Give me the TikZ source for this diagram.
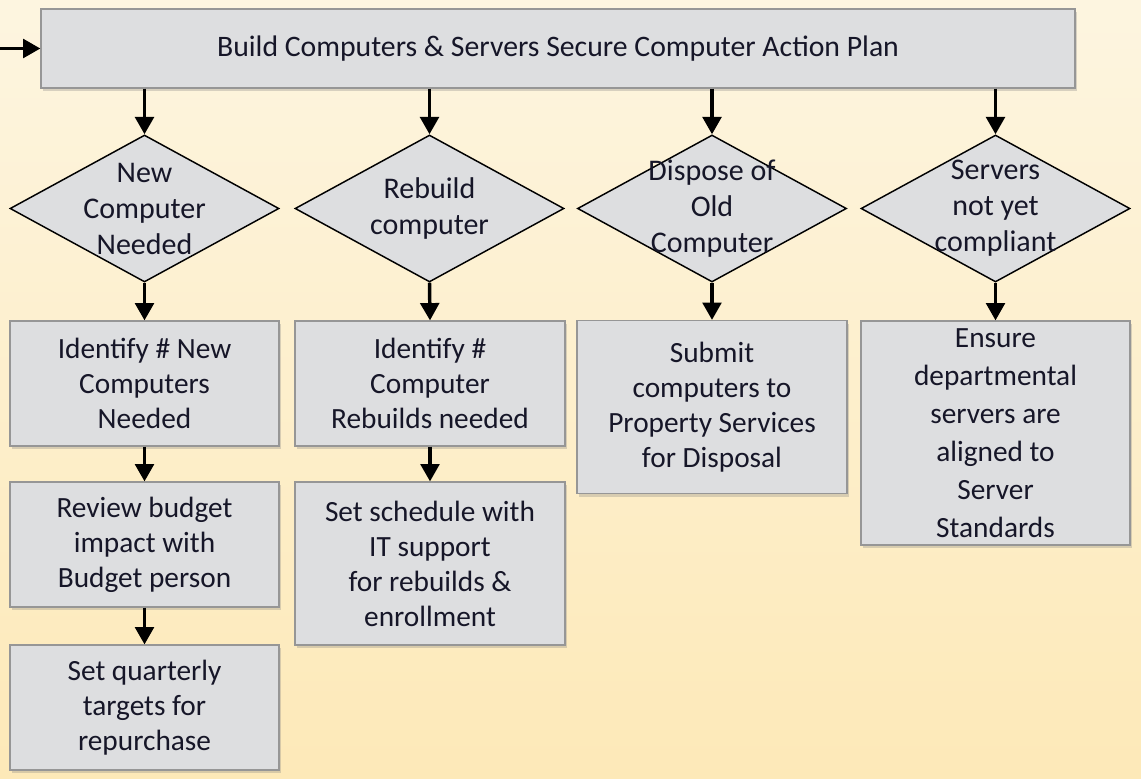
\documentclass[tikz,border=0pt]{standalone}
\usepackage{fontspec}
\setmainfont{Carlito}
\usetikzlibrary{shapes.geometric,arrows.meta,shadows}
\definecolor{bgtop}{RGB}{253,245,224}
\definecolor{bgbot}{RGB}{253,233,184}
\definecolor{boxfill}{RGB}{221,222,224}
\definecolor{boxline}{RGB}{150,150,150}
\definecolor{ink}{RGB}{22,22,40}
\begin{document}
\begin{tikzpicture}[x=0.75pt,y=-0.75pt,
 pbox/.style={draw=boxline, line width=0.9pt, fill=boxfill,
   drop shadow={opacity=0.3,shadow xshift=1.5pt,shadow yshift=-2.5pt},
   align=center, text=ink, font=\fontsize{22}{26.25}\selectfont, inner sep=0pt},
 dia/.style={diamond, draw=black, line width=1.1pt, fill=boxfill, inner sep=0pt,
   minimum width=201.75pt, minimum height=110.25pt},
 diatext/.style={align=center, text=ink, font=\fontsize{22.5}{27}\selectfont, inner sep=0pt},
 arr/.style={line width=2.6pt, -{Triangle[width=14pt,length=13pt]}}]
\shade[top color=bgtop, bottom color=bgbot] (0,0) rectangle (1141,778);
\useasboundingbox (0,0) rectangle (1141,778);

\node[pbox, minimum width=775.5pt, minimum height=59.25pt, font=\fontsize{22.3}{26}\selectfont] (top) at (558,48.5)
  {Build Computers \& Servers Secure Computer Action Plan};

\node[dia] (d1) at (144.5,208.5) {};
\node[dia] (d2) at (429.5,208.5) {};
\node[dia] (d3) at (712,208.5) {};
\node[dia] (d4) at (995.5,208.5) {};
\node[diatext] (t1) at (d1) {New\\Computer\\Needed};
\node[diatext] (t2) at (d2) {Rebuild\\computer};
\node[diatext] (t3) at (d3) {Dispose of\\Old\\Computer};
\node[diatext] (t4) at (d4) {Servers\\not yet\\compliant};

\node[pbox, minimum width=201.75pt, minimum height=93.75pt] (b1) at (144.5,383.5)
  {Identify \# New\\Computers\\Needed};
\node[pbox, minimum width=201.75pt, minimum height=93.75pt] (c1) at (144.5,544.5)
  {Review budget\\impact with\\Budget person};
\node[pbox, minimum width=201.75pt, minimum height=93.75pt] (e1) at (144.5,707.5)
  {Set quarterly\\targets for\\repurchase};
\node[pbox, minimum width=202.5pt, minimum height=93.75pt] (b2) at (430,383.5)
  {Identify \#\\Computer\\Rebuilds needed};
\node[pbox, minimum width=202.5pt, minimum height=122.25pt] (c2) at (430,563.5)
  {Set schedule with\\IT support\\for rebuilds \&\\enrollment};
\node[pbox, minimum width=202.5pt, minimum height=129.75pt] (b3) at (712,407)
  {Submit\\computers to\\Property Services\\for Disposal};
\node[pbox, minimum width=201.75pt, minimum height=168pt, font=\fontsize{22}{28.5}\selectfont] (b4) at (995.5,433)
  {Ensure\\departmental\\servers are\\aligned to\\Server\\Standards};

\coordinate (in) at (0,48.5);
\draw[arr] (in) -- (top.west);
\foreach \d in {d1,d2,d3,d4}
  \draw[arr] (top.south -| \d.north) -- (\d.north);
\draw[arr] (d1.south) -- (b1.north);
\draw[arr] (d2.south) -- (b2.north);
\draw[arr] (d3.south) -- (b3.north);
\draw[arr] (d4.south) -- (b4.north);
\draw[arr] (b1.south) -- (c1.north);
\draw[arr] (c1.south) -- (e1.north);
\draw[arr] (b2.south) -- (c2.north);
\end{tikzpicture}
\end{document}
